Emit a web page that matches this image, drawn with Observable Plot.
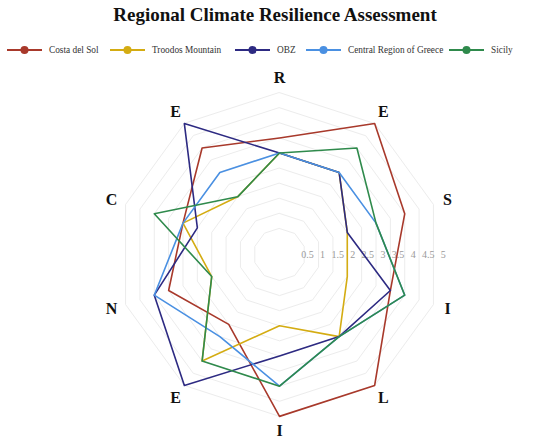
<!DOCTYPE html>
<html>
<head>
<meta charset="utf-8">
<script src="https://cdn.jsdelivr.net/npm/d3@7"></script>
<script src="https://cdn.jsdelivr.net/npm/@observablehq/plot@0.6"></script>
<style>
  html, body { margin: 0; padding: 0; background: #fff; }
  body { width: 550px; height: 442px; overflow: hidden; font-family: "Liberation Serif", "DejaVu Serif", serif; }
  #title { height: 30px; line-height: 30px; text-align: center; font-size: 19px; font-weight: bold; color: #111; }
  #legend { position: relative; height: 30px; }
  .item { position: absolute; top: 13px; height: 14px; display: flex; align-items: center; font-size: 9.3px; color: #333; white-space: nowrap; }
  .item svg { margin-right: 7px; }
  #chart svg { display: block; }
</style>
</head>
<body>
<div id="title">Regional Climate Resilience Assessment</div>
<div id="legend"></div>
<div id="chart"></div>
<script>
// ---- data ----
const axisLabels = ["R", "E", "S", "I", "L", "I", "E", "N", "C", "E"];
const seriesNames = ["Costa del Sol", "Troodos Mountain", "OBZ", "Central Region of Greece", "Sicily"];
const costaDelSol = [3.5, 5, 4, 3.5, 5, 5, 2.5, 3.5, 3, 4];
const troodosMountain = [3, 3, 2, 2, 3, 2, 4, 2, 3, 2];
const obz = [3, 3, 2, 3.5, 3, 3, 5, 4, 2.5, 5];
const centralGreece = [3, 3, 3, 4, 3, 4, 3, 4, 3, 3];
const sicily = [3, 4, 3, 4, 3, 4, 4, 2, 4, 2];
const tickValues = [0.5, 1, 1.5, 2, 2.5, 3, 3.5, 4, 4.5, 5];
const tickLabels = ["0.5", "1", "1.5", "2", "2.5", "3", "3.5", "4", "4.5", "5"];

// ---- styling / layout ----
const colors = ["#a8392b", "#d4ac12", "#2d2a82", "#4a90e2", "#2f8a4c"];
const W = 550, H = 382, CX = 279, CY = 194, PX = 30.2, OFF = 0.36, LABEL_U = 5.85;
const N = axisLabels.length;

function polar(v, i) {
  const a = i * 2 * Math.PI / N;
  const u = v + OFF;
  return { x: u * Math.sin(a), y: u * Math.cos(a) };
}

const allSeries = [costaDelSol, troodosMountain, obz, centralGreece, sicily];
const rows = [];
allSeries.forEach((vals, s) => vals.forEach((v, i) => rows.push({ name: seriesNames[s], value: v, axis: i, ...polar(v, i) })));

const gridRows = [];
tickValues.forEach(t => axisLabels.forEach((_, i) => gridRows.push({ t, ...polar(t, i) })));

const labelRows = axisLabels.map((l, i) => {
  const a = i * 2 * Math.PI / N;
  return { label: l, x: LABEL_U * Math.sin(a), y: LABEL_U * Math.cos(a) };
});
const tickRows = tickValues.map((t, k) => ({ label: tickLabels[k], x: t + OFF, y: 0 }));

const chart = Plot.plot({
  width: W,
  height: H,
  margin: 0,
  style: { fontFamily: "Liberation Serif, DejaVu Serif, serif", background: "#fff" },
  x: { domain: [-CX / PX, (W - CX) / PX], range: [0, W], axis: null },
  y: { domain: [-(H - CY) / PX, CY / PX], range: [H, 0], axis: null },
  color: { domain: seriesNames, range: colors },
  marks: [
    Plot.line(gridRows, { x: "x", y: "y", z: "t", curve: "linear-closed", stroke: "#ececec", strokeWidth: 1 }),
    Plot.text(tickRows, { x: "x", y: "y", text: "label", fill: "#9a9a9a", fontSize: 10, dx: 2, textAnchor: "middle" }),
    Plot.line(rows, { x: "x", y: "y", z: "name", stroke: "name", curve: "linear-closed", strokeWidth: 1.6 }),
    Plot.text(labelRows, { x: "x", y: "y", text: "label", fontSize: 16, fontWeight: "bold", fill: "#111" })
  ]
});
document.getElementById("chart").appendChild(chart);

// ---- legend ----
const legendX = [7, 110, 235, 306, 449];
const legend = document.getElementById("legend");
seriesNames.forEach((name, s) => {
  const d = document.createElement("div");
  d.className = "item";
  d.style.left = legendX[s] + "px";
  d.innerHTML = `<svg width="35" height="12"><line x1="0" y1="6" x2="35" y2="6" stroke="${colors[s]}" stroke-width="2"/><circle cx="17.5" cy="6" r="4" fill="${colors[s]}"/></svg><span>${name}</span>`;
  legend.appendChild(d);
});
</script>
</body>
</html>
